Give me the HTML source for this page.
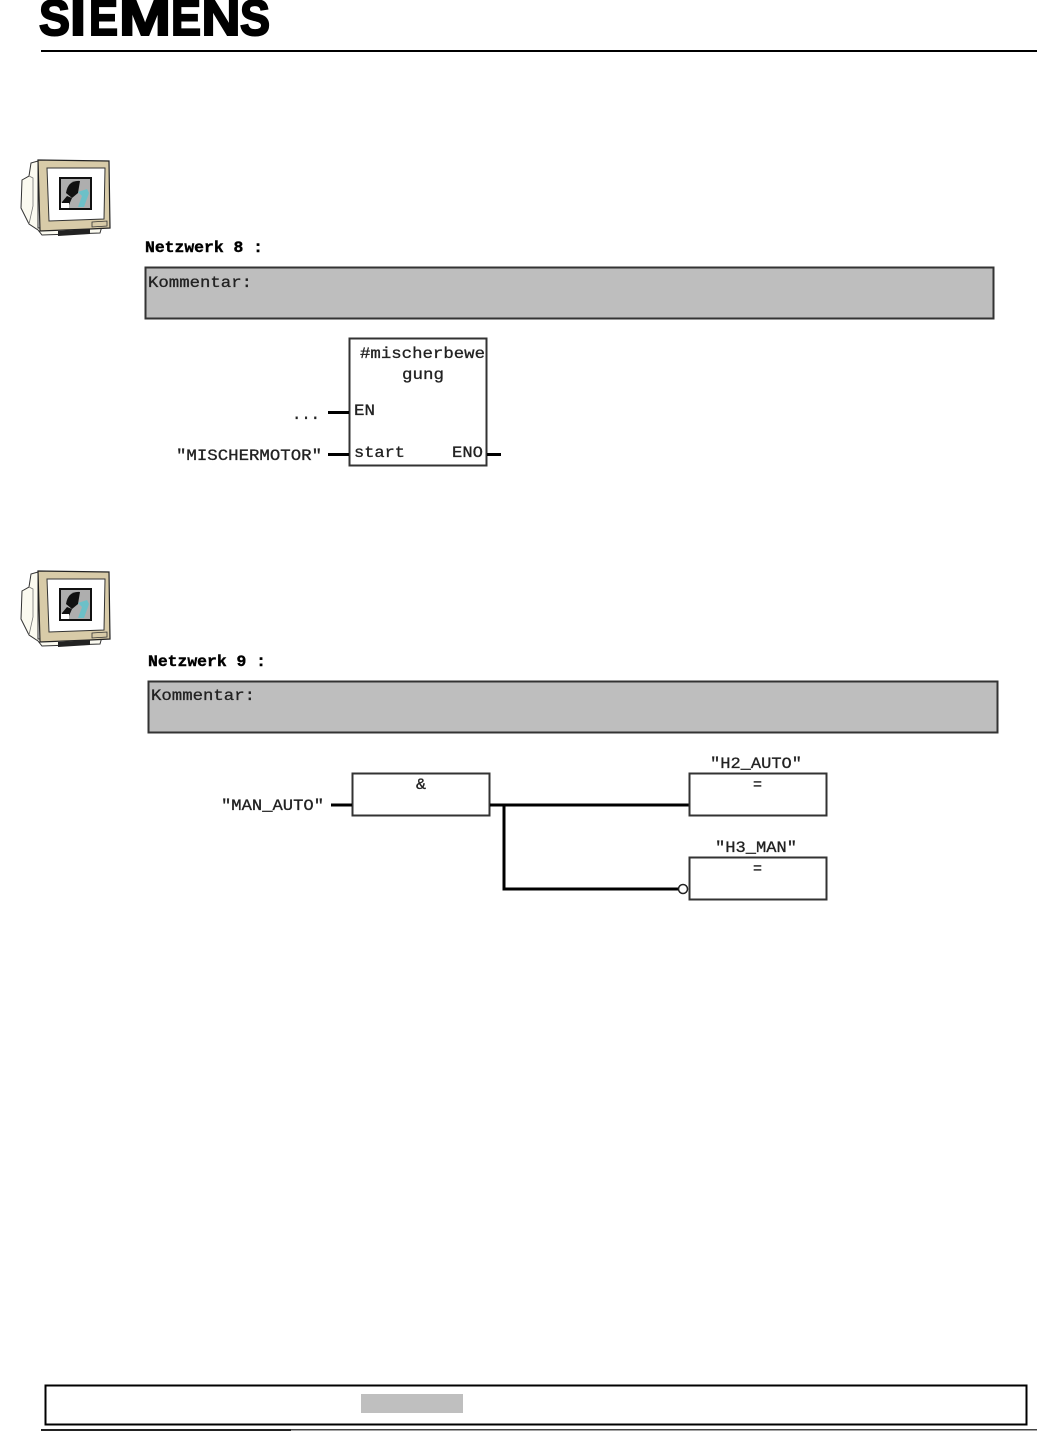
<!DOCTYPE html>
<html><head><meta charset="utf-8"><style>
html,body{margin:0;padding:0;background:#fff}
svg{display:block}
text{font-family:"Liberation Mono",monospace;fill:#222;stroke:#222;stroke-width:.3;font-size:16px}
.b{font-weight:bold;fill:#000;stroke:#000;stroke-width:.4}
.l{font-family:"Liberation Sans",sans-serif;font-weight:bold;font-size:50px;fill:#000;stroke:#000;stroke-width:2}
</style></head><body>
<svg width="1037" height="1432" viewBox="0 0 1037 1432" xmlns="http://www.w3.org/2000/svg">
<defs>
<g id="mon">
  <path d="M38 161 L31 163 L29 176 L22 180 L21 208 L29 224 L38 230 L42 235 L100 233 L102 226 L38 228Z" fill="#fbfaf0" stroke="#333" stroke-width="1"/>
  <path d="M29 176 L33 178 L33 206 L29 224" fill="none" stroke="#777" stroke-width=".8"/>
  <path d="M38 160 L109 161 L110 228 L90 229 L40 231Z" fill="#d8cba8" stroke="#222" stroke-width="1.200"/>
  <path d="M47 168 L105 168 L104 219 L49 221Z" fill="#fff" stroke="#333" stroke-width="1"/>
  <rect x="59" y="177" width="33" height="33" fill="#111"/>
  <rect x="61" y="179" width="29" height="29" fill="#aeaeae"/>
  <path d="M66 193 Q68 180 80 181 L78 193 L72 198 Z" fill="#111"/>
  <path d="M62 202 L67 196 L72 198 L69 205 L62 208Z" fill="#111"/>
  <path d="M78 192 L87 189 L89 193 L84 207 L78 207 L82 196Z" fill="#6cc0c8"/>
  <rect x="61" y="203" width="8" height="5" fill="#fff"/>
  <path d="M58 231 L90 229 L90 234 L58 236Z" fill="#222"/>
  <path d="M92 222 L107 221 L107 226 L92 227Z" fill="#d8cba8" stroke="#333" stroke-width=".8"/>
</g>
</defs>

<text class="l" x="39" y="35" textLength="31" lengthAdjust="spacingAndGlyphs">S</text>
<text class="l" x="70" y="35" textLength="16" lengthAdjust="spacingAndGlyphs">I</text>
<text class="l" x="89" y="35" textLength="29" lengthAdjust="spacingAndGlyphs">E</text>
<text class="l" x="119" y="35" textLength="52" lengthAdjust="spacingAndGlyphs">M</text>
<text class="l" x="171" y="35" textLength="30" lengthAdjust="spacingAndGlyphs">E</text>
<text class="l" x="201.500" y="35" textLength="39" lengthAdjust="spacingAndGlyphs">N</text>
<text class="l" x="240" y="35" textLength="30" lengthAdjust="spacingAndGlyphs">S</text>
<rect x="41" y="50" width="996" height="2" fill="#000"/>

<use href="#mon"/>
<use href="#mon" y="411"/>

<!-- Network 8 -->
<text x="145" y="252" class="b" textLength="118" lengthAdjust="spacingAndGlyphs">Netzwerk 8 :</text>
<rect x="145.500" y="267.500" width="848" height="51" fill="#bebebe" stroke="#333" stroke-width="2"/>
<text x="148" y="287" textLength="104" lengthAdjust="spacingAndGlyphs">Kommentar:</text>

<rect x="349.500" y="338.500" width="137" height="127" fill="#fff" stroke="#333" stroke-width="2"/>
<text x="360" y="358" textLength="125" lengthAdjust="spacingAndGlyphs">#mischerbewe</text>
<text x="402" y="379" textLength="42" lengthAdjust="spacingAndGlyphs">gung</text>
<text x="354" y="415" textLength="21" lengthAdjust="spacingAndGlyphs">EN</text>
<text x="354" y="457" textLength="51" lengthAdjust="spacingAndGlyphs">start</text>
<text x="452" y="457" textLength="31" lengthAdjust="spacingAndGlyphs">ENO</text>
<text x="292" y="419" textLength="28" lengthAdjust="spacingAndGlyphs">...</text>
<text x="176" y="460" textLength="146" lengthAdjust="spacingAndGlyphs">"MISCHERMOTOR"</text>
<path d="M328 412.500H349M328 454.500H349M487 454.500H501" stroke="#000" stroke-width="3" fill="none"/>

<!-- Network 9 -->
<text x="148" y="666" class="b" textLength="118" lengthAdjust="spacingAndGlyphs">Netzwerk 9 :</text>
<rect x="148.500" y="681.500" width="849" height="51" fill="#bebebe" stroke="#333" stroke-width="2"/>
<text x="151" y="700" textLength="104" lengthAdjust="spacingAndGlyphs">Kommentar:</text>

<rect x="352.500" y="773.500" width="137" height="42" fill="#fff" stroke="#333" stroke-width="2"/>
<text x="416" y="789" textLength="10" lengthAdjust="spacingAndGlyphs">&amp;</text>
<text x="221" y="810" textLength="103" lengthAdjust="spacingAndGlyphs">"MAN_AUTO"</text>
<path d="M331 805H352M490 805H689M504 805V889H678" stroke="#000" stroke-width="3" fill="none"/>

<text x="710" y="768" textLength="92" lengthAdjust="spacingAndGlyphs">"H2_AUTO"</text>
<rect x="689.500" y="773.500" width="137" height="42" fill="#fff" stroke="#333" stroke-width="2"/>
<text x="753" y="789" textLength="9" lengthAdjust="spacingAndGlyphs">=</text>

<text x="715" y="852" textLength="82" lengthAdjust="spacingAndGlyphs">"H3_MAN"</text>
<rect x="689.500" y="857.500" width="137" height="42" fill="#fff" stroke="#333" stroke-width="2"/>
<text x="753" y="873" textLength="9" lengthAdjust="spacingAndGlyphs">=</text>
<circle cx="683" cy="889" r="4.500" fill="#fff" stroke="#222" stroke-width="1.500"/>

<!-- Footer -->
<rect x="45.500" y="1385.500" width="981" height="39" fill="#fff" stroke="#000" stroke-width="2"/>
<rect x="361" y="1394" width="102" height="19" fill="#bfbfbf"/>
<rect x="41" y="1429" width="250" height="2" fill="#222"/>
<rect x="291" y="1429" width="746" height="1.500" fill="#444"/>
</svg>
</body></html>
